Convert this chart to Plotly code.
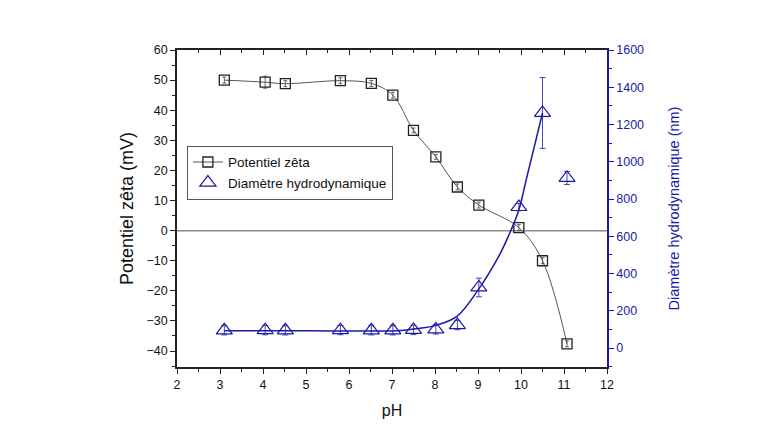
import plotly.graph_objects as go

# Zeta potential data
ph_zeta = [3.1, 4.05, 4.52, 5.8, 6.52, 7.02, 7.5, 8.02, 8.52, 9.02, 9.95, 10.5, 11.07]
zeta = [50.0, 49.3, 48.8, 49.8, 48.9, 45.0, 33.3, 24.5, 14.5, 8.5, 1.0, -10.0, -37.6]
zeta_err = [1.0, 2.0, 1.0, 1.0, 1.0, 1.0, 0.8, 0.8, 1.0, 1.0, 1.0, 1.0, 1.0]

# Hydrodynamic diameter data
ph_diam = [3.1, 4.05, 4.52, 5.8, 6.52, 7.02, 7.5, 8.02, 8.52, 9.02, 9.95, 10.5, 11.07]
diam = [95, 96, 95, 96, 95, 95, 97, 100, 123, 325, 757, 1262, 913]
diam_err = [25, 25, 25, 25, 25, 25, 25, 25, 25, 50, 20, 190, 35]

# Fitted curve
ph_fit = [3.1, 5.0, 7.12, 7.5, 8.0, 8.5, 9.0, 9.5, 9.77, 9.95, 10.12, 10.5]
diam_fit = [92, 92, 93, 102, 120, 168, 311, 500, 634, 741, 902, 1262]

xticks = [2, 3, 4, 5, 6, 7, 8, 9, 10, 11, 12]
yticks_left = [-40, -30, -20, -10, 0, 10, 20, 30, 40, 50, 60]
yticks_right = [0, 200, 400, 600, 800, 1000, 1200, 1400, 1600]

BLUE = "#1a1aa6"
BLACK = "#222222"
FONT = "Liberation Sans, Arial, sans-serif"

fig = go.Figure()

# zero line
fig.add_trace(go.Scatter(x=[2, 12], y=[0, 0], mode="lines",
                         line=dict(color="#8c8c8c", width=1.5),
                         showlegend=False, hoverinfo="skip"))

# fit curve
fig.add_trace(go.Scatter(x=ph_fit, y=diam_fit, yaxis="y2", mode="lines",
                         line=dict(color=BLUE, width=1.5, shape="spline"),
                         showlegend=False, hoverinfo="skip"))

fig.add_trace(go.Scatter(x=ph_zeta, y=zeta, mode="lines+markers",
                         name="Potentiel zêta",
                         line=dict(color="#555555", width=1, shape="spline"),
                         marker=dict(symbol="square-open", size=10,
                                     color=BLACK, line=dict(width=1.3)),
                         error_y=dict(type="data", array=zeta_err, color="#444444",
                                      thickness=0.8, width=2)))

fig.add_trace(go.Scatter(x=ph_diam, y=diam, yaxis="y2", mode="markers",
                         name="Diamètre hydrodynamique",
                         marker=dict(symbol="triangle-up-open", size=14,
                                     color=BLUE, line=dict(width=1.2)),
                         error_y=dict(type="data", array=diam_err, color=BLUE,
                                      thickness=0.8, width=3)))

# invisible trace for top axis
fig.add_trace(go.Scatter(x=[2, 12], y=[0, 0], xaxis="x2", mode="markers",
                         marker=dict(opacity=0), showlegend=False, hoverinfo="skip"))

fig.update_layout(
    width=760, height=440,
    margin=dict(l=177, r=153, t=50, b=73),
    paper_bgcolor="white", plot_bgcolor="white",
    font=dict(family=FONT, size=12, color="#111111"),
    showlegend=True,
    legend=dict(x=0.023, y=0.698, xanchor="left", yanchor="top",
                bgcolor="white", bordercolor="#555555", borderwidth=1,
                font=dict(size=13.5, family=FONT, color="#111111"),
                tracegroupgap=0, itemwidth=30),
    xaxis=dict(range=[2, 12], tickvals=xticks, ticks="outside", ticklen=5,
               showgrid=False, zeroline=False, showline=True,
               linecolor=BLACK, linewidth=1.5, tickcolor=BLACK, tickwidth=1.2,
               tickfont=dict(size=12.5),
               minor=dict(ticks="outside", ticklen=3, dtick=0.5, tickcolor=BLACK),
               title=dict(text="pH", font=dict(size=16), standoff=14)),
    xaxis2=dict(range=[2, 12], overlaying="x", side="top", anchor="y",
                tickvals=xticks, ticks="inside", ticklen=5, showticklabels=False,
                showgrid=False, zeroline=False, showline=True,
                linecolor=BLACK, linewidth=1.5, tickcolor=BLACK, tickwidth=1.2,
                minor=dict(ticks="inside", ticklen=3, dtick=0.5, tickcolor=BLACK)),
    yaxis=dict(range=[-45.3, 60], tickvals=yticks_left, ticks="outside", ticklen=5,
               showgrid=False, zeroline=False, showline=True,
               linecolor=BLACK, linewidth=1.5, tickcolor=BLACK, tickwidth=1.2,
               tickfont=dict(size=12.5),
               minor=dict(ticks="outside", ticklen=3, dtick=5, tickcolor=BLACK),
               title=dict(text="Potentiel zêta (mV)", font=dict(size=18), standoff=8)),
    yaxis2=dict(range=[-102, 1600], overlaying="y", side="right", anchor="x",
                tickvals=yticks_right, ticks="outside", ticklen=5,
                showgrid=False, zeroline=False, showline=True,
                linecolor=BLUE, linewidth=1.5, tickcolor=BLUE, tickwidth=1.2,
                tickfont=dict(color=BLUE, size=12.5),
                minor=dict(ticks="outside", ticklen=3, dtick=100, tickcolor=BLUE),
                title=dict(text="Diamètre hydrodynamique (nm)",
                           font=dict(size=14.5, color=BLUE), standoff=26)),
)

fig.write_html("out.html")
